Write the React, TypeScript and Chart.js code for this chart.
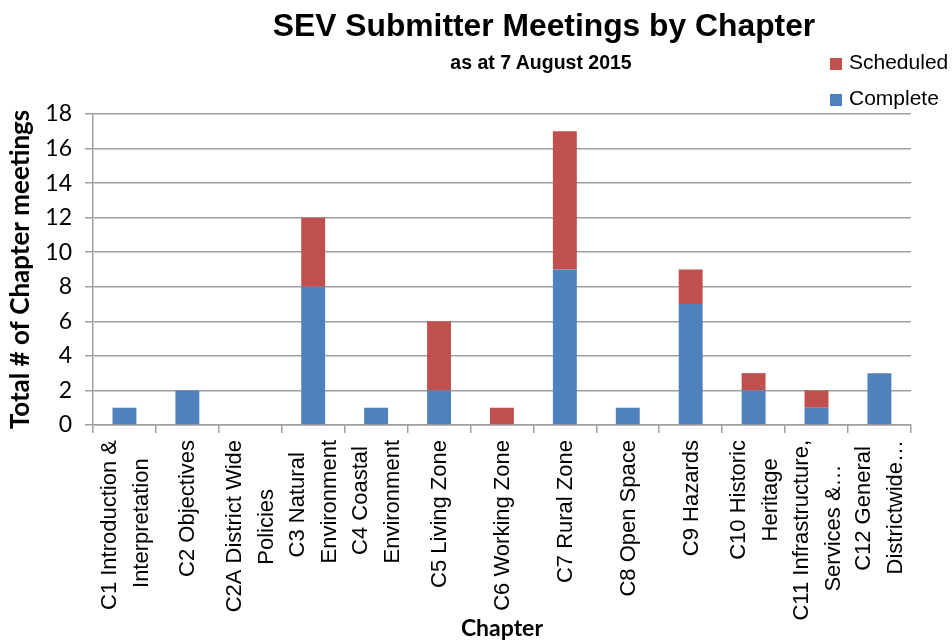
import React, { useEffect, useRef } from "react";
import { Chart, registerables } from "chart.js";

Chart.register(...registerables);

// ---- data ----
const chapterLabels: string[][] = [
  ["C1 Introduction &", "Interpretation"],
  ["C2 Objectives"],
  ["C2A District Wide", "Policies"],
  ["C3 Natural", "Environment"],
  ["C4 Coastal", "Environment"],
  ["C5 Living Zone"],
  ["C6 Working Zone"],
  ["C7 Rural Zone"],
  ["C8 Open Space"],
  ["C9 Hazards"],
  ["C10 Historic", "Heritage"],
  ["C11 Infrastructure,", "Services &…"],
  ["C12 General", "Districtwide…"],
];
const completeValues = [1, 2, 0, 8, 1, 2, 0, 9, 1, 7, 2, 1, 3];
const scheduledValues = [0, 0, 0, 4, 0, 4, 1, 8, 0, 2, 1, 1, 0];
const yMin = 0;
const yMax = 18;
const yStep = 2;

const TITLE = "SEV Submitter Meetings by Chapter";
const SUBTITLE = "as at 7 August 2015";
const Y_TITLE = "Total # of Chapter meetings";
const X_TITLE = "Chapter";
const SERIES_COMPLETE = "Complete";
const SERIES_SCHEDULED = "Scheduled";

// ---- styles ----
const COLOR_COMPLETE = "#4F81BD";
const COLOR_SCHEDULED = "#C0504D";
const GRID = "#9f9f9f";
const ARIAL = "'Liberation Sans', Arial, sans-serif";
const CAL = "Lato, 'Liberation Sans', sans-serif";
const LABEL_SIZE = 22;
const LINE_GAP = 32;

function centerLines(lines: string[]): string[] {
  if (lines.length === 1) return ["", lines[0]];
  const c = document.createElement("canvas").getContext("2d")!;
  c.font = `${LABEL_SIZE}px ${ARIAL}`;
  const widths = lines.map((l) => c.measureText(l).width);
  const maxW = Math.max(...widths);
  const sp = c.measureText(" ").width || 6;
  return lines.map((l, i) => l + " ".repeat(Math.max(0, Math.round((maxW - widths[i]) / 2 / sp))));
}

export default function App() {
  const ref = useRef<HTMLCanvasElement | null>(null);

  useEffect(() => {
    document.body.style.margin = "0";
    if (!ref.current) return;
    const chart = new Chart(ref.current, {
      type: "bar",
      data: {
        labels: chapterLabels.map(centerLines),
        datasets: [
          {
            label: SERIES_COMPLETE,
            data: completeValues,
            backgroundColor: COLOR_COMPLETE,
            barPercentage: 0.38,
            categoryPercentage: 1,
          },
          {
            label: SERIES_SCHEDULED,
            data: scheduledValues,
            backgroundColor: COLOR_SCHEDULED,
            barPercentage: 0.38,
            categoryPercentage: 1,
          },
        ],
      },
      options: {
        animation: false,
        responsive: false,
        layout: { padding: { top: 114, right: 41, left: 0, bottom: 0 } },
        plugins: {
          legend: { display: false },
          title: { display: false },
          tooltip: { enabled: false },
        },
        scales: {
          x: {
            stacked: true,
            offset: true,
            grid: {
              display: true,
              drawOnChartArea: false,
              drawTicks: true,
              tickLength: 8,
              color: GRID,
              lineWidth: 1.5,
              offset: true,
            },
            border: { display: true, color: GRID, width: 1.5 },
            ticks: {
              autoSkip: false,
              maxRotation: 90,
              minRotation: 90,
              padding: 7,
              labelOffset: -LINE_GAP / 2 + 1,
              color: "#000",
              font: (ctx: any) => {
                const n = chapterLabels[ctx?.index]?.length ?? 1;
                return {
                  family: ARIAL,
                  size: LABEL_SIZE,
                  lineHeight: n > 1 ? `${LINE_GAP}px` : `${LINE_GAP / 2}px`,
                };
              },
            },
            title: {
              display: true,
              text: X_TITLE,
              color: "#000",
              font: { family: CAL, weight: "bold", size: 23 },
              padding: 0,
            },
            afterFit: (s: any) => {
              s.height = 217;
            },
          },
          y: {
            stacked: true,
            min: yMin,
            max: yMax,
            ticks: {
              stepSize: yStep,
              padding: 13,
              color: "#000",
              font: { family: CAL, size: 23 },
            },
            grid: { color: GRID, lineWidth: 1.5, tickLength: 8, drawTicks: true },
            border: { display: true, color: GRID, width: 1.5 },
            title: {
              display: true,
              text: Y_TITLE,
              color: "#000",
              font: { family: CAL, weight: "bold", size: 26 },
              padding: { top: 5, bottom: 0 },
            },
            afterFit: (s: any) => {
              s.width = 93;
            },
          },
        },
      },
    } as any);
    return () => chart.destroy();
  }, []);

  const legendItems = [
    { label: SERIES_SCHEDULED, color: COLOR_SCHEDULED, top: 58 },
    { label: SERIES_COMPLETE, color: COLOR_COMPLETE, top: 94 },
  ];

  return (
    <div style={{ position: "relative", width: 952, height: 642, background: "#fff", overflow: "hidden" }}>
      <canvas ref={ref} width={952} height={642} style={{ display: "block", width: 952, height: 642 }} />
      <div
        style={{
          position: "absolute",
          left: 544,
          top: 10,
          transform: "translateX(-50%)",
          whiteSpace: "nowrap",
          font: `bold 31.8px/31.8px ${ARIAL}`,
          color: "#000",
        }}
      >
        {TITLE}
      </div>
      <div
        style={{
          position: "absolute",
          left: 541,
          top: 53,
          transform: "translateX(-50%)",
          whiteSpace: "nowrap",
          font: `bold 19.5px/19.5px ${ARIAL}`,
          color: "#000",
        }}
      >
        {SUBTITLE}
      </div>
      {legendItems.map((it) => (
        <React.Fragment key={it.label}>
          <div
            style={{
              position: "absolute",
              left: 830,
              top: it.top,
              width: 12,
              height: 12,
              background: it.color,
            }}
          />
          <div
            style={{
              position: "absolute",
              left: 849,
              top: it.top - 8,
              whiteSpace: "nowrap",
              font: `21px/24px ${ARIAL}`,
              color: "#000",
            }}
          >
            {it.label}
          </div>
        </React.Fragment>
      ))}
    </div>
  );
}
